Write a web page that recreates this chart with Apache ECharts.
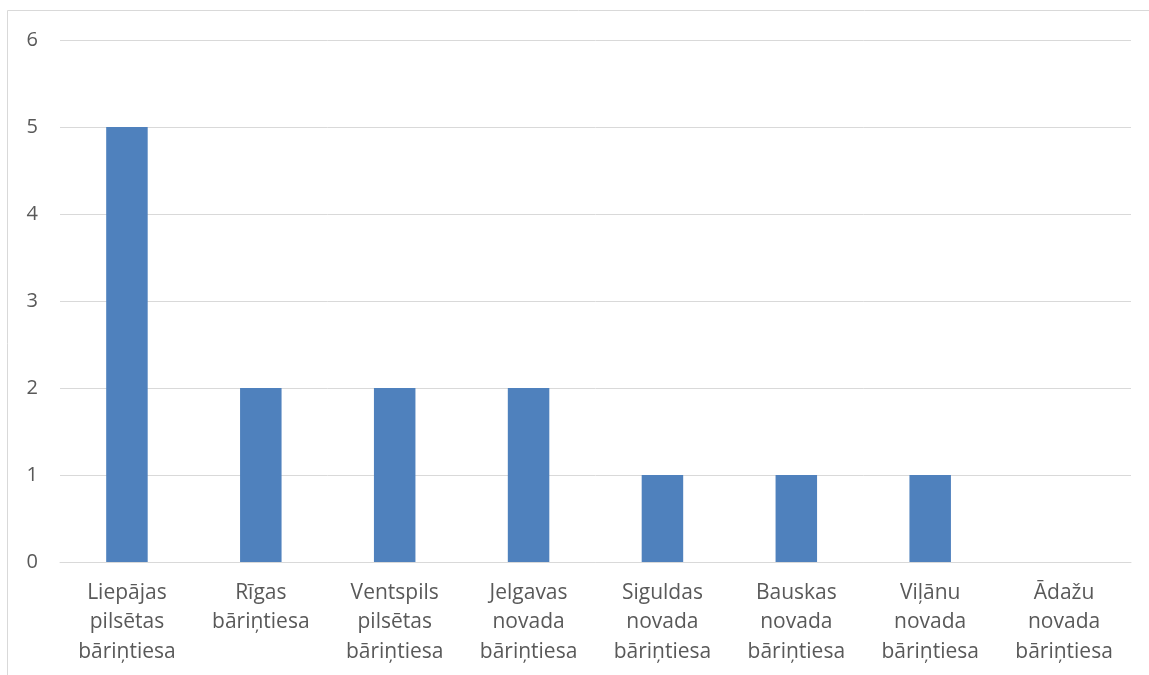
<!DOCTYPE html>
<html><head><meta charset="utf-8">
<script src="https://cdn.jsdelivr.net/npm/echarts@6/dist/echarts.min.js"></script>
<style>html,body{margin:0;padding:0;background:#fff}#c{width:1149px;height:675px}</style>
</head><body><div id="c"></div>
<script>
const categories = [
  "Liepājas\npilsētas\nbāriņtiesa",
  "Rīgas\nbāriņtiesa",
  "Ventspils\npilsētas\nbāriņtiesa",
  "Jelgavas\nnovada\nbāriņtiesa",
  "Siguldas\nnovada\nbāriņtiesa",
  "Bauskas\nnovada\nbāriņtiesa",
  "Viļānu\nnovada\nbāriņtiesa",
  "Ādažu\nnovada\nbāriņtiesa"
];
const values = [5, 2, 2, 2, 1, 1, 1, 0];
const yTicks = [0, 1, 2, 3, 4, 5, 6];

const chart = echarts.init(document.getElementById('c'), null, {renderer: 'canvas'});
const font = '"Open Sans", sans-serif';
chart.setOption({
  animation: false,
  graphic: [{
    type: 'rect', shape: {x: 7.5, y: 10.5, width: 1160, height: 700},
    style: {fill: 'none', stroke: '#d9d9d9', lineWidth: 1}, silent: true
  }],
  grid: {left: 60, right: 18, top: 40, bottom: 113, containLabel: false},
  xAxis: {
    type: 'category', data: categories,
    axisTick: {show: false},
    axisLine: {lineStyle: {color: '#d9d9d9', width: 1}},
    axisLabel: {color: '#595959', fontSize: 21, fontFamily: font, lineHeight: 29.5, margin: 16, interval: 0}
  },
  yAxis: {
    type: 'value', min: yTicks[0], max: yTicks[yTicks.length - 1], interval: 1,
    axisLine: {show: false}, axisTick: {show: false},
    splitLine: {lineStyle: {color: '#d9d9d9', width: 1}},
    axisLabel: {color: '#595959', fontSize: 20, fontFamily: font, margin: 22}
  },
  series: [{
    type: 'bar', data: values, barWidth: '31%',
    itemStyle: {color: '#4f81bd'}
  }]
});
</script></body></html>
